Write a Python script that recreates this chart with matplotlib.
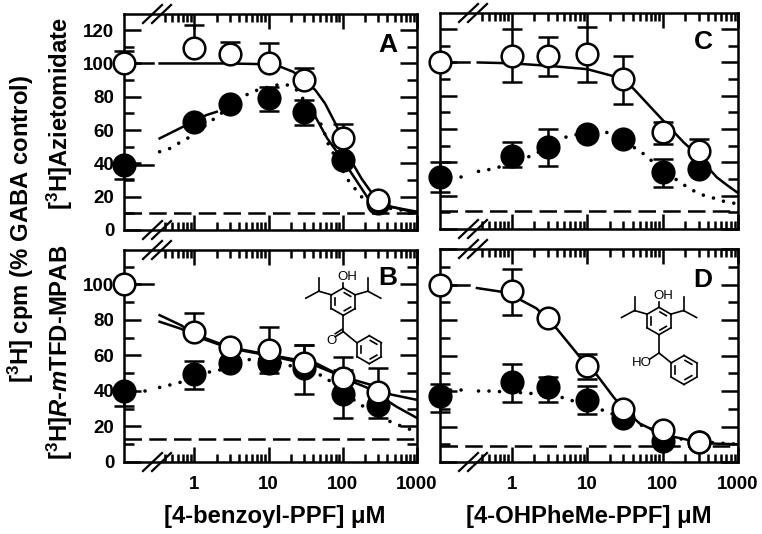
"""Photolabeling inhibition by 4-benzoyl-PPF and 4-OHPheMe-PPF: four panels with a broken log axis."""

import math

import matplotlib

matplotlib.use("Agg")
import matplotlib.pyplot as plt
import numpy as np
from matplotlib.lines import Line2D
from matplotlib.ticker import FixedFormatter, FixedLocator, MultipleLocator, NullFormatter

W, H = 762, 534

CONC = [0.112, 1, 3, 10, 30, 100, 300]
TICK_LABELS = ["1", "10", "100", "1000"]

# panel A
A_OPEN = [100, 109, 105.5, 100, 90, 55, 18]
A_OPEN_TOP = [107.5, 123, 113, 112, 97, 63.5, 18]
A_OPEN_LOW = [100, 109, 105.5, 100, 90, 55, 18]
A_FILL = [39, 65, 75.5, 79, 71, 42, 16]
A_FILL_TOP = [39, 65, 75.5, 86, 78, 42, 16]
A_FILL_LOW = [30.5, 65, 75.5, 71.5, 63, 42, 16]
A_BASE = 10
A_STUBS = [(100, "-"), (39, "-")]
A_SOLID_X = [-0.47, 0, 0.48, 1, 1.16, 1.33, 1.48, 1.63, 1.76, 1.9, 2, 2.12, 2.25, 2.37, 2.477, 2.64, 3]
A_SOLID_Y = [100, 100, 100, 99.5, 98, 95, 90, 84, 76, 64, 54, 41, 31, 23.5, 18.5, 14, 11]
A_SOLID2_X = [-0.47, -0.2, 0.16, 0.3, 0.9, 1.63, 1.79, 2, 2.37, 3]
A_SOLID2_Y = [55, 61, 69, 71, np.nan, 68, 55, 42, 17, 10.2]
A_DOT_X = [-0.47, -0.33, -0.18, -0.04, 0.3, 0.66, 0.77, 1.01, 1.15, 1.27, 1.38, 1.72, 1.8, 2.06, 2.25, 2.5, 3]
A_DOT_Y = [47, 49, 53, 56.4, 68, 80, 83, 86, 87.4, 87, 84, 62.6, 52, 30.6, 20, 14, 10.5]

# panel B
B_OPEN = [100, 73, 65, 63, 56, 47.5, 39.5]
B_OPEN_TOP = [100, 84, 65, 76, 66, 59, 53]
B_OPEN_LOW = [100, 73, 65, 63, 56, 47.5, 39.5]
B_FILL = [40, 49.5, 56, 56, 53, 38.5, 32]
B_FILL_TOP = [40, 57, 56, 56, 66, 52, 40]
B_FILL_LOW = [31.5, 41, 56, 50, 38.5, 25, 25]
B_BASE = 13
B_STUBS = [(100, "-"), (40, ":")]
B_SOLID_X = [-0.47, -0.18, 0, 0.48, 1, 1.65, 2.14, 2.32, 2.73, 3]
B_SOLID_Y = [82.7, 77, 72, 64.5, 60.5, 55.4, 45, 42, 31, 24.8]
B_SOLID2_X = [-0.47, -0.18, 0, 0.48, 1, 1.65, 2, 2.5, 2.65, 3]
B_SOLID2_Y = [79, 75, 71, 64, 60, 54, 48, 42, 38, 35]
B_DOT_X = [-0.47, -0.31, -0.18, 0, 0.48, 0.66, 0.77, 1, 1.74, 2.21, 2.57, 2.71, 2.82, 2.93, 3]
B_DOT_Y = [42, 43.6, 45, 49, 53, 56.8, 58, 58, 48.4, 33, 24, 21.5, 19.7, 18, 17.5]

# panel C
C_OPEN = [100, 104, 104, 105, 90, 58, 47]
C_OPEN_TOP = [100, 120, 115, 121, 104, 64, 54]
C_OPEN_LOW = [100, 88, 92, 88, 75, 51, 47]
C_FILL = [31, 44, 49, 57, 54, 34, 36]
C_FILL_TOP = [40, 52, 60, 57, 54, 42, 36]
C_FILL_LOW = [22, 37, 38, 57, 54, 25.5, 36]
C_BASE = 11
C_STUBS = [(100, "-"), (31.5, ":")]
C_SOLID_X = [-0.45, 0, 0.48, 1, 1.33, 1.48, 1.62, 2.01, 2.28, 2.46, 2.6, 2.72, 2.85, 3]
C_SOLID_Y = [100, 99.5, 98, 96, 92, 90, 84, 65, 52, 44.6, 37, 31, 26.5, 21.6]
C_DOT_X = [-0.44, -0.31, -0.18, 0.15, 0.29, 0.64, 0.75, 1.22, 1.7, 1.81, 2.17, 2.3, 2.41, 2.52, 2.65, 2.77, 2.89, 3]
C_DOT_Y = [34.6, 35.6, 37, 42, 44.6, 53, 56, 59, 47, 42.6, 30, 26, 23, 20.6, 19, 17, 16, 15]

# panel D
D_OPEN = [100, 96.5, 81, 54, 30, 18, 11]
D_OPEN_TOP = [100, 108.5, 81, 60.7, 30, 18, 11]
D_OPEN_LOW = [100, 83, 81, 47, 30, 18, 11]
D_FILL = [37, 45, 42, 35, 25, 12, 11]
D_FILL_TOP = [44, 55, 48, 42.7, 25, 12, 11]
D_FILL_LOW = [28, 34, 34, 27, 25, 12, 11]
D_BASE = 9
D_STUBS = [(100, "-"), (40.4, ":")]
D_SOLID_X = [-0.46, -0.15, 0.11, 0.33, 0.6, 0.85, 1, 1.13, 1.35, 1.48, 1.7, 2, 2.28, 2.477, 2.72, 3]
D_SOLID_Y = [98, 96, 91.5, 86.5, 75, 62, 54, 49, 36.6, 30, 21.6, 15.5, 13, 11, 10.3, 10]
D_DOT_X = [-0.44, -0.31, 0.15, 0.29, 0.64, 0.77, 1.22, 1.7, 2.15, 2.28, 2.72, 2.9, 3]
D_DOT_Y = [40, 40, 39, 38.5, 36.7, 35, 29, 21, 14, 12.6, 10.7, 10.3, 10]

plt.rcParams["font.family"] = ["Liberation Sans", "DejaVu Sans"]
plt.rcParams["font.weight"] = "bold"
plt.rcParams["mathtext.fontset"] = "custom"
plt.rcParams["mathtext.rm"] = "Liberation Sans:bold"
plt.rcParams["mathtext.it"] = "Liberation Sans:italic:bold"
plt.rcParams["mathtext.bf"] = "Liberation Sans:bold"
plt.rcParams["mathtext.default"] = "rm"

LW = 1.8
BOND = 1.2
DOTTED = (0, (0.01, 2.9))
DASHED = (0, (7, 2.9))
X_MAJOR = [1, 10, 100, 1000]
X_MINOR = [m * d for d in (0.1, 1, 10, 100) for m in range(2, 10) if m * d >= 0.4]

fig = plt.figure(figsize=(W / 100, H / 100), dpi=100)


def px(x, y):
    return x / W, 1 - y / H


def fig_line(xs, ys, lw=LW):
    pts = [px(x, y) for x, y in zip(xs, ys)]
    fig.add_artist(
        Line2D([p[0] for p in pts], [p[1] for p in pts], color="black", lw=lw, transform=fig.transFigure)
    )


def fig_text(x, y, s, **kw):
    fig.text(*px(x, y), s, ha="center", va="center", **kw)


def axis_break(left, y):
    for off in (0, 9):
        fig_line([left + 19 + off, left + 38 + off], [y + 9, y - 9], 1.6)


def make_axes(left, right, top, bottom, ytop, show_x, show_y):
    ax = fig.add_axes([left / W, 1 - bottom / H, (right - left) / W, (bottom - top) / H])
    ax.set_xscale("log")
    ax.set_xlim(10**-0.95, 1000)
    ax.set_ylim(0, ytop)
    ax.xaxis.set_major_locator(FixedLocator(X_MAJOR))
    ax.xaxis.set_minor_locator(FixedLocator(X_MINOR))
    ax.xaxis.set_major_formatter(FixedFormatter(TICK_LABELS))
    ax.xaxis.set_minor_formatter(NullFormatter())
    ax.yaxis.set_major_locator(MultipleLocator(20))
    ax.yaxis.set_minor_locator(MultipleLocator(10))
    for spine in ax.spines.values():
        spine.set_linewidth(LW)
    ax.tick_params(axis="both", which="both", direction="in", top=True, right=True, width=LW,
                   labelsize=13.5, labelbottom=show_x, labelleft=show_y)
    ax.tick_params(axis="x", which="major", length=11, pad=10)
    ax.tick_params(axis="x", which="minor", length=6)
    ax.tick_params(axis="y", which="major", length=12.5, pad=7)
    ax.tick_params(axis="y", which="minor", length=7)
    return ax


def draw_panel(ax, base, stubs, solids, dot_x, dot_y, fill, fill_low, fill_top, opened, open_low, open_top):
    ax.plot([CONC[0], 1000], [base, base], color="black", lw=LW, ls=DASHED, zorder=2)
    for y, style in stubs:
        ax.plot([CONC[0], 10**-0.56], [y, y], color="black",
                lw=2.6 if style == ":" else LW, ls=DOTTED if style == ":" else "-",
                dash_capstyle="round", zorder=3)
    for sx, sy in solids:
        ax.plot(10 ** np.array(sx), sy, color="black", lw=LW, zorder=3)
    ax.plot(10 ** np.array(dot_x), dot_y, color="black", lw=2.6, ls=DOTTED, dash_capstyle="round", zorder=3)

    for ys, low, top, face, z in ((fill, fill_low, fill_top, "black", 4), (opened, open_low, open_top, "white", 6)):
        yerr = [np.array(ys) - np.array(low), np.array(top) - np.array(ys)]
        ax.errorbar(CONC, ys, yerr=yerr, fmt="none", ecolor="black", elinewidth=LW, capsize=7.2,
                    capthick=LW, clip_on=False, zorder=z)
        ax.plot(CONC, ys, "o", ms=15.6, mfc=face, mec="black", mew=1.8, clip_on=False, zorder=z + 1)


def ring(cx, cy, r, lw=BOND):
    verts = [(cx + r * math.cos(math.radians(a)), cy + r * math.sin(math.radians(a))) for a in range(-90, 270, 60)]
    for i in range(6):
        a, b = verts[i], verts[(i + 1) % 6]
        fig_line([a[0], b[0]], [a[1], b[1]], lw)
        if i % 2 == 0:
            # inner double bond, pulled toward the ring centre
            ia = (cx + 0.7 * (a[0] - cx) + 0.08 * (b[0] - a[0]), cy + 0.7 * (a[1] - cy) + 0.08 * (b[1] - a[1]))
            ib = (cx + 0.7 * (b[0] - cx) - 0.08 * (b[0] - a[0]), cy + 0.7 * (b[1] - cy) - 0.08 * (b[1] - a[1]))
            fig_line([ia[0], ib[0]], [ia[1], ib[1]], lw)


def phenol_core(cx, cy, r=13.7):
    ring(cx, cy, r)
    fig_line([cx, cx], [cy - r, cy - r - 5], BOND)
    fig_text(cx + 4, cy - r - 11.5, "OH", fontsize=9.5, fontweight="normal")
    for s in (-1, 1):
        fig_line([cx + s * 0.866 * r, cx + s * 24.5], [cy - 0.5 * r, cy - 10.5], BOND)
        fig_line([cx + s * 24.5, cx + s * 24.5], [cy - 10.5, cy - 24], BOND)
        fig_line([cx + s * 24.5, cx + s * 37.5], [cy - 10.5, cy - 3.5], BOND)


def benzoyl(cx, cy):
    phenol_core(cx, cy)
    fig_line([cx, cx], [cy + 13.7, cy + 30], BOND)
    fig_line([cx, cx - 8], [cy + 30, cy + 35], BOND)
    fig_line([cx - 1, cx - 8], [cy + 27.5, cy + 32], BOND)
    fig_text(cx - 12, cy + 39, "O", fontsize=9.5, fontweight="normal")
    fig_line([cx, cx + 13.5], [cy + 30, cy + 41], BOND)
    ring(cx + 26, cy + 48, 14)


def carbinol(cx, cy):
    phenol_core(cx, cy)
    fig_line([cx, cx], [cy + 13.7, cy + 32], BOND)
    fig_line([cx, cx - 9], [cy + 32, cy + 38], BOND)
    fig_text(cx - 17.5, cy + 41.5, "HO", fontsize=9.5, fontweight="normal")
    fig_line([cx, cx + 12.5], [cy + 32, cy + 42], BOND)
    ring(cx + 25, cy + 49, 14.5)


ax_a = make_axes(124, 417, 14, 230, 129.7, False, True)
ax_b = make_axes(124, 417, 250, 462, 119.4, True, True)
ax_c = make_axes(440, 738, 13, 229, 129.7, False, False)
ax_d = make_axes(440, 738, 249, 462, 120, True, False)

draw_panel(ax_a, A_BASE, A_STUBS, [(A_SOLID_X, A_SOLID_Y), (A_SOLID2_X, A_SOLID2_Y)], A_DOT_X, A_DOT_Y,
           A_FILL, A_FILL_LOW, A_FILL_TOP, A_OPEN, A_OPEN_LOW, A_OPEN_TOP)
draw_panel(ax_b, B_BASE, B_STUBS, [(B_SOLID_X, B_SOLID_Y), (B_SOLID2_X, B_SOLID2_Y)], B_DOT_X, B_DOT_Y,
           B_FILL, B_FILL_LOW, B_FILL_TOP, B_OPEN, B_OPEN_LOW, B_OPEN_TOP)
draw_panel(ax_c, C_BASE, C_STUBS, [(C_SOLID_X, C_SOLID_Y)], C_DOT_X, C_DOT_Y,
           C_FILL, C_FILL_LOW, C_FILL_TOP, C_OPEN, C_OPEN_LOW, C_OPEN_TOP)
draw_panel(ax_d, D_BASE, D_STUBS, [(D_SOLID_X, D_SOLID_Y)], D_DOT_X, D_DOT_Y,
           D_FILL, D_FILL_LOW, D_FILL_TOP, D_OPEN, D_OPEN_LOW, D_OPEN_TOP)

for left, ys in ((124, (14, 230, 250, 462)), (440, (13, 229, 249, 462))):
    for y in ys:
        axis_break(left, y)

for x, y, s in ((388, 45, "A"), (388, 278, "B"), (703, 42, "C"), (703, 280, "D")):
    fig_text(x, y, s, fontsize=19)

benzoyl(343.3, 301.7)
carbinol(659, 321)

fig_text(275, 517, "[4-benzoyl-PPF] μM", fontsize=17.2)
fig_text(589, 516, "[4-OHPheMe-PPF] μM", fontsize=17.2)
fig_text(21, 229, "[$^{3}$H] cpm (% GABA control)", fontsize=17.2, rotation=90)
fig_text(60, 114, "[$^{3}$H]Azietomidate", fontsize=17.2, rotation=90)
fig_text(60, 352, "[$^{3}$H]$\\mathit{R}$-$\\mathit{m}$TFD-MPAB", fontsize=17.2, rotation=90)

fig.savefig("out.png", dpi=100)
plt.close(fig)
